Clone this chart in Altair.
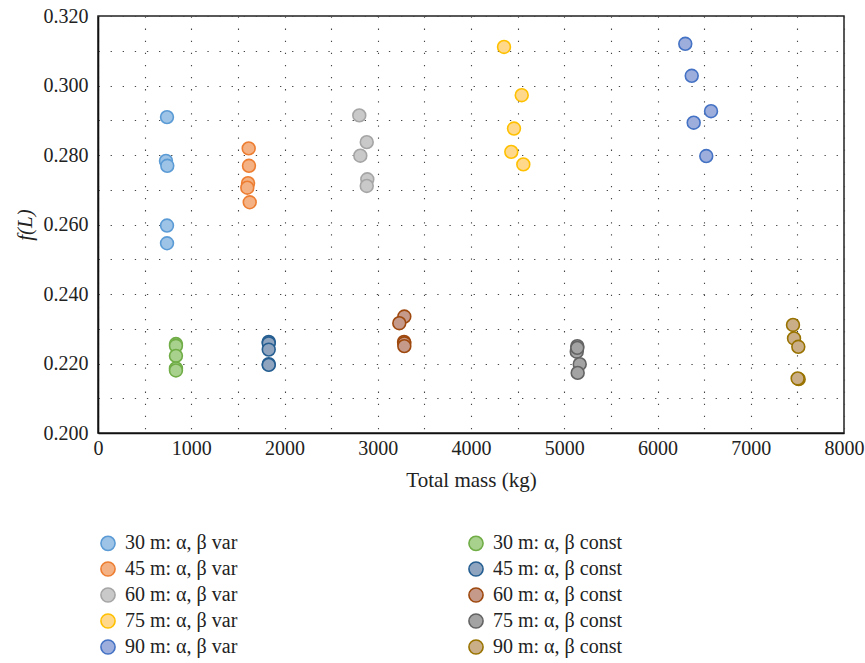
import altair as alt
import pandas as pd

# Series labels: the "var" runs fill the left legend column, "const" runs the right
series_var = ["30 m: α, β var", "45 m: α, β var", "60 m: α, β var",
              "75 m: α, β var", "90 m: α, β var"]
series_const = ["30 m: α, β const", "45 m: α, β const", "60 m: α, β const",
                "75 m: α, β const", "90 m: α, β const"]

# Total mass (kg) and f(L) for each run
mass_30_var = [740, 729, 743, 740, 740]
f_30_var = [0.2909, 0.2783, 0.2769, 0.2597, 0.2546]
mass_45_var = [1616, 1619, 1609, 1601, 1627]
f_45_var = [0.2819, 0.2769, 0.2719, 0.2706, 0.2664]
mass_60_var = [2802, 2882, 2813, 2888, 2882]
f_60_var = [0.2914, 0.2837, 0.2798, 0.2730, 0.2711]
mass_75_var = [4354, 4544, 4461, 4432, 4561]
f_75_var = [0.3111, 0.2972, 0.2876, 0.2809, 0.2773]
mass_90_var = [6298, 6367, 6574, 6388, 6523]
f_90_var = [0.3120, 0.3028, 0.2926, 0.2893, 0.2797]

mass_30_const = [836, 836, 836, 836, 836]
f_30_const = [0.2256, 0.2251, 0.2222, 0.2186, 0.2180]
mass_45_const = [1831, 1831, 1831, 1831, 1831]
f_45_const = [0.2262, 0.2258, 0.2240, 0.2198, 0.2196]
mass_60_const = [3285, 3231, 3282, 3285, 3285]
f_60_const = [0.2335, 0.2316, 0.2262, 0.2258, 0.2250]
mass_75_const = [5140, 5134, 5166, 5144, 5140]
f_75_const = [0.2250, 0.2234, 0.2198, 0.2173, 0.2245]
mass_90_const = [7453, 7464, 7510, 7514, 7503]
f_90_const = [0.2311, 0.2272, 0.2248, 0.2155, 0.2157]

strokes_var = ["#5B9BD5", "#ED7D31", "#A5A5A5", "#FFC000", "#4472C4"]
fills_var = ["#9DC3E6", "#F4B183", "#C9C9C9", "#FFD88C", "#9DAEDD"]
strokes_const = ["#70AD47", "#255E91", "#9E480E", "#636363", "#997300"]
fills_const = ["#A9D18E", "#8EA4BF", "#C59A8A", "#A3A3A3", "#C9AE88"]

masses_var = [mass_30_var, mass_45_var, mass_60_var, mass_75_var, mass_90_var]
fs_var = [f_30_var, f_45_var, f_60_var, f_75_var, f_90_var]
masses_const = [mass_30_const, mass_45_const, mass_60_const, mass_75_const, mass_90_const]
fs_const = [f_30_const, f_45_const, f_60_const, f_75_const, f_90_const]

rows = []
for name, ms, fs in zip(series_var, masses_var, fs_var):
    rows += [{"series": name, "mass": m, "f": v} for m, v in zip(ms, fs)]
for name, ms, fs in zip(series_const, masses_const, fs_const):
    rows += [{"series": name, "mass": m, "f": v} for m, v in zip(ms, fs)]
df = pd.DataFrame(rows)

domain = series_var + series_const
fill_range = fills_var + fills_const
stroke_range = strokes_var + strokes_const

FONT = "Liberation Serif"

chart = alt.Chart(df).mark_point(
    shape="circle", filled=False, size=165, strokeWidth=1.6, opacity=1
).encode(
    x=alt.X("mass:Q", title="Total mass (kg)",
            scale=alt.Scale(domain=[0, 8000], nice=False),
            axis=alt.Axis(values=list(range(0, 8001, 500)),
                          labelExpr="datum.value % 1000 == 0 ? format(datum.value, 'd') : ''",
                          labelFlush=False, labelPadding=5, titlePadding=11)),
    y=alt.Y("f:Q", title="f(L)",
            scale=alt.Scale(domain=[0.2, 0.32], nice=False, zero=False),
            axis=alt.Axis(values=[round(0.2 + 0.01 * i, 2) for i in range(13)],
                          labelExpr="round(datum.value * 1000) % 20 == 0 ? format(datum.value, '.3f') : ''",
                          labelFlush=False, labelPadding=10, titlePadding=8,
                          titleFontStyle="italic")),
    fill=alt.Fill("series:N", scale=alt.Scale(domain=domain, range=fill_range),
                  legend=alt.Legend(title=None)),
    stroke=alt.Stroke("series:N", scale=alt.Scale(domain=domain, range=stroke_range),
                      legend=alt.Legend(title=None)),
).properties(
    width=746, height=417,
    autosize=alt.AutoSizeParams(type="none"),
    padding={"left": 98, "top": 16, "right": 21, "bottom": 230},
).configure_view(
    stroke="#222222", strokeWidth=1.5
).configure_axis(
    labelFont=FONT, titleFont=FONT, labelFontSize=20, titleFontSize=21,
    labelColor="#222222", titleColor="#222222", titleFontWeight="normal",
    domainColor="#111111", domainWidth=1.6, ticks=False,
    grid=True, gridColor="#444444", gridDash=[1.3, 10.8], gridWidth=1.1,
).configure_legend(
    orient="none", legendX=0, legendY=517, columns=2, columnPadding=227,
    labelFont=FONT, labelFontSize=20, labelColor="#222222", labelLimit=400,
    symbolType="circle", symbolSize=200, symbolStrokeWidth=1.6, labelOffset=7,
    rowPadding=4, padding=0,
)

chart.save("out.html", embed_options={"renderer": "svg", "actions": False})
